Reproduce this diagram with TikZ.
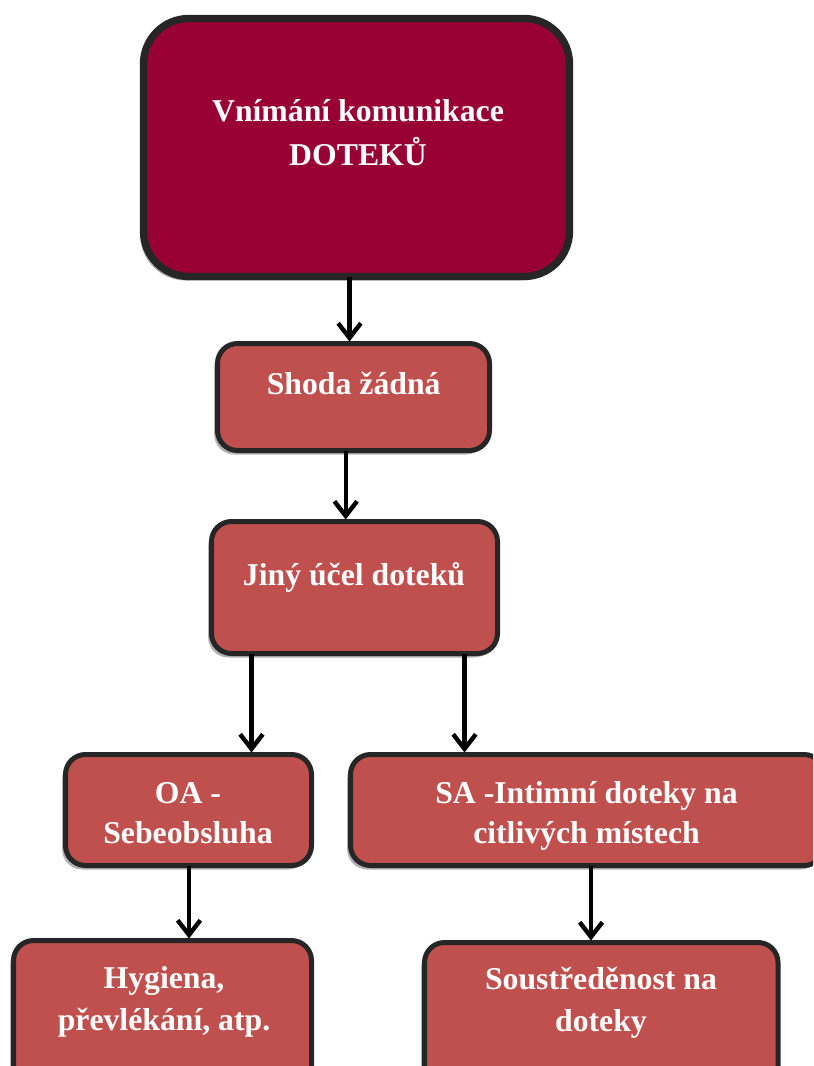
\documentclass[tikz,border=0pt]{standalone}
\usepackage{fontspec}
\setmainfont{Liberation Serif}
\usetikzlibrary{arrows.meta,shadows,fit}
\definecolor{crimson}{HTML}{990033}
\definecolor{brick}{HTML}{C0504D}
\definecolor{edgegray}{HTML}{262626}
\tikzset{
  box/.style={draw=edgegray, fill=brick, rounded corners=15pt, line width=3.75pt,
    inner sep=0pt, outer sep=0pt,
    drop shadow={shadow xshift=-2.5pt, shadow yshift=-3pt, opacity=0.3, fill=black}},
  topbox/.style={box, fill=crimson, rounded corners=34pt, line width=5.5pt},
  lbl/.style={text=white, font=\fontsize{23.8}{31}\selectfont\bfseries,
    align=center, anchor=base, inner sep=0pt},
  arr/.style={line width=3.3pt, shorten >=1.5pt,
    -{Straight Barb[length=11pt,width=17pt]}}
}
\begin{document}
\begin{tikzpicture}[x=0.75pt, y=-0.75pt]
  \useasboundingbox (0,0) rectangle (813,1066);
  \clip (0,0) rectangle (813,1066);
  % boxes
  \node[topbox, fit={(143.5,18.5) (569.5,276.5)}] (A) {};
  \node[box, fit={(217.5,343.5) (489.5,450.5)}] (B) {};
  \node[box, fit={(211.5,521.5) (497.5,653.5)}] (C) {};
  \node[box, fit={(65.5,754.5) (311.5,865.5)}] (D) {};
  \node[box, fit={(350.5,754.5) (824,865.5)}] (E) {};
  \node[box, fit={(13.5,940.5) (311.5,1110)}] (F) {};
  \node[box, fit={(424.5,942.5) (778,1110)}] (G) {};
  % labels (two-line labels sit on the baseline of their last line)
  \node[lbl, font=\fontsize{23.8}{33}\selectfont\bfseries] (tA) at (358,166) {Vnímání komunikace\\DOTEKŮ};
  \node[lbl] (tB) at (353.7,394) {Shoda žádná};
  \node[lbl] (tC) at (354,585) {Jiný účel doteků};
  \node[lbl, font=\fontsize{23.8}{30}\selectfont\bfseries] (tD) at (188,843) {OA -\\Sebeobsluha};
  \node[lbl, font=\fontsize{23.8}{30}\selectfont\bfseries] (tE) at (586.5,843) {SA -Intimní doteky na\\citlivých místech};
  \node[lbl, font=\fontsize{23.8}{31.5}\selectfont\bfseries] (tF) at (164,1030) {Hygiena,\\převlékání, atp.};
  \node[lbl, font=\fontsize{23.8}{31.5}\selectfont\bfseries] (tG) at (601,1031) {Soustředěnost na\\doteky};
  % connector columns
  \coordinate (xab) at (349.5,0);
  \coordinate (xbc) at (345.7,0);
  \coordinate (xcd) at (251.5,0);
  \coordinate (xce) at (464.5,0);
  \coordinate (xdf) at (189,0);
  \coordinate (xeg) at (591,0);
  % connectors
  \draw[arr] (A.south -| xab) -- (B.north -| xab);
  \draw[arr] (B.south -| xbc) -- (C.north -| xbc);
  \draw[arr] (C.south -| xcd) -- (D.north -| xcd);
  \draw[arr] (C.south -| xce) -- (E.north -| xce);
  \draw[arr] (D.south -| xdf) -- (F.north -| xdf);
  \draw[arr] (E.south -| xeg) -- (G.north -| xeg);
\end{tikzpicture}
\end{document}
